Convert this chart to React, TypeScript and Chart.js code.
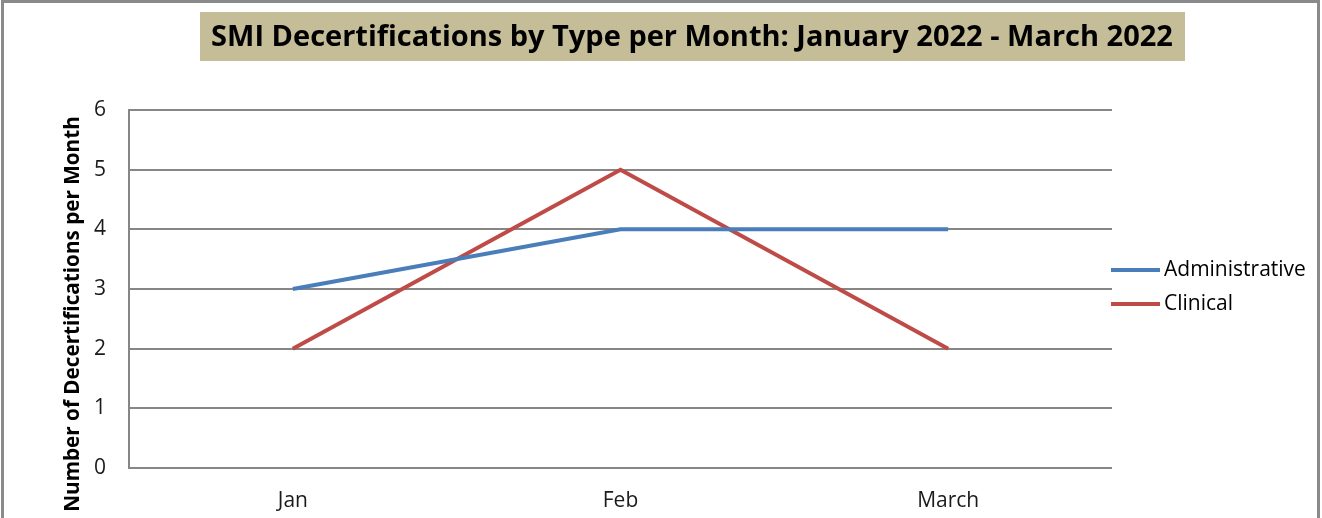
import React, { useEffect, useRef } from "react";
import { Chart, registerables } from "chart.js";

Chart.register(...registerables);

const categories = ["Jan", "Feb", "March"];
const administrative = [3, 4, 4];
const clinical = [2, 5, 2];
const seriesNames = ["Administrative", "Clinical"];
const seriesColors = ["#4A7EBB", "#BE4B48"];
const yMin = 0;
const yMax = 6;
const yStep = 1;
const titleText = "SMI Decertifications by Type per Month: January 2022 - March 2022";
const yTitleText = "Number of Decertifications per Month";

const FONT = "'Open Sans', Lato, sans-serif";
const W = 1322;
const H = 518;

const framePlugin = {
  id: "frame",
  beforeDraw(chart: any) {
    const ctx = chart.ctx;
    ctx.save();
    ctx.fillStyle = "#ffffff";
    ctx.fillRect(0, 0, chart.width, chart.height);
    ctx.strokeStyle = "#8a8a8a";
    ctx.lineWidth = 3;
    ctx.strokeRect(2.5, 1.5, 1316, 600);
    // title box
    ctx.fillStyle = "#C4BD97";
    ctx.fillRect(200, 12, 985, 49);
    ctx.fillStyle = "#000000";
    ctx.font = `bold 29px ${FONT}`;
    ctx.textAlign = "center";
    ctx.textBaseline = "middle";
    ctx.fillText(titleText, 692, 38);
    ctx.restore();
  },
  afterDraw(chart: any) {
    const ctx = chart.ctx;
    const area = chart.chartArea;
    ctx.save();
    // y axis title
    ctx.translate(73, 314);
    ctx.rotate(-Math.PI / 2);
    ctx.font = `bold 20.7px ${FONT}`;
    ctx.fillStyle = "#000000";
    ctx.textAlign = "center";
    ctx.textBaseline = "middle";
    ctx.fillText(yTitleText, 0, 0);
    ctx.restore();
    // legend
    ctx.save();
    const ds = chart.data.datasets;
    ds.forEach((d: any, i: number) => {
      const y = 270 + i * 34;
      const x0 = area.right - 1;
      ctx.strokeStyle = d.borderColor;
      ctx.lineWidth = 4;
      ctx.beginPath();
      ctx.moveTo(x0, y);
      ctx.lineTo(x0 + 49, y);
      ctx.stroke();
      ctx.fillStyle = "#000000";
      ctx.font = `21px ${FONT}`;
      ctx.textAlign = "left";
      ctx.textBaseline = "middle";
      ctx.fillText(d.label, x0 + 53, y);
    });
    ctx.restore();
  },
};

export default function App() {
  const ref = useRef<HTMLCanvasElement | null>(null);
  useEffect(() => {
    document.body.style.margin = "0";
    if (!ref.current) return;
    const chart = new Chart(ref.current, {
      type: "line",
      data: {
        labels: categories,
        datasets: [
          {
            label: seriesNames[0],
            data: administrative,
            borderColor: seriesColors[0],
            backgroundColor: seriesColors[0],
            borderWidth: 4,
            pointRadius: 0,
            tension: 0,
          },
          {
            label: seriesNames[1],
            data: clinical,
            borderColor: seriesColors[1],
            backgroundColor: seriesColors[1],
            borderWidth: 4,
            pointRadius: 0,
            tension: 0,
          },
        ],
      },
      options: {
        animation: false,
        responsive: false,
        maintainAspectRatio: false,
        layout: { padding: { top: 110, right: 210, left: 0, bottom: 0 } },
        plugins: {
          legend: { display: false },
          title: { display: false },
          tooltip: { enabled: false },
        },
        scales: {
          x: {
            offset: true,
            grid: { display: false, drawTicks: false },
            border: { display: false },
            ticks: {
              color: "#1a1a1a",
              font: { family: FONT, size: 21 },
              padding: 20,
              maxRotation: 0,
            },
            afterFit(s: any) {
              s.height = 50;
            },
          },
          y: {
            min: yMin,
            max: yMax,
            ticks: {
              stepSize: yStep,
              color: "#1a1a1a",
              font: { family: FONT, size: 21 },
              padding: 23,
            },
            grid: { color: "#868686", lineWidth: 2, drawTicks: false },
            border: { display: true, color: "#868686", width: 2 },
            afterFit(s: any) {
              s.width = 129;
            },
          },
        },
      },
      plugins: [framePlugin],
    });
    return () => chart.destroy();
  }, []);
  return (
    <div style={{ width: W, height: H }}>
      <canvas ref={ref} width={W} height={H} style={{ display: "block" }} />
    </div>
  );
}
